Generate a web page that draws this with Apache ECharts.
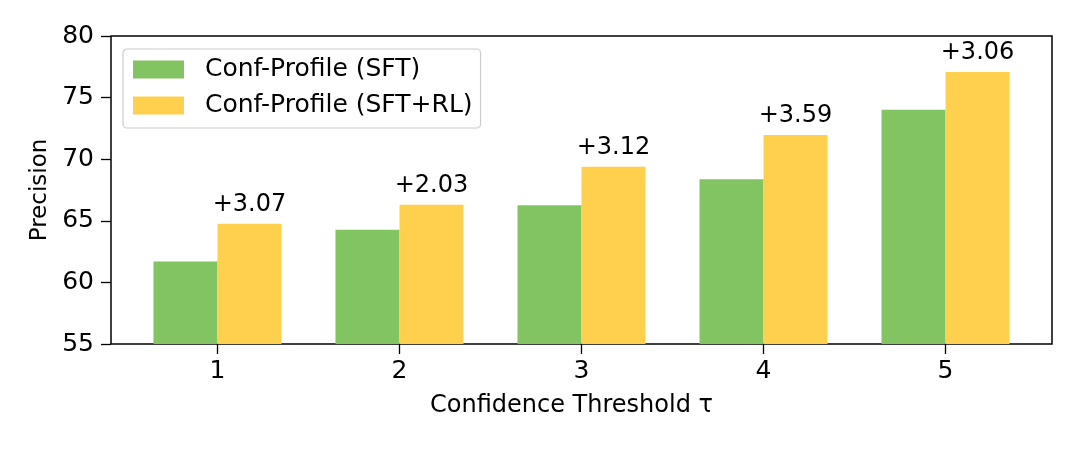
<!DOCTYPE html>
<html>
<head>
<meta charset="utf-8">
<script src="https://cdn.jsdelivr.net/npm/echarts@6/dist/echarts.min.js"></script>
<style>html,body{margin:0;padding:0;background:#fff;}#c{width:1080px;height:450px;}</style>
</head>
<body>
<div id="c"></div>
<script>
const categories = [1, 2, 3, 4, 5];
const sftValues = [61.70, 64.27, 66.26, 68.37, 74.01];
const rlValues = [64.77, 66.30, 69.38, 71.96, 77.07];
const gainLabels = ['+3.07', '+2.03', '+3.12', '+3.59', '+3.06'];
const yTicks = [55, 60, 65, 70, 75, 80];
const seriesNames = ['Conf-Profile (SFT)', 'Conf-Profile (SFT+RL)'];

const FONT = 'DejaVu Sans';
const chart = echarts.init(document.getElementById('c'), null, {renderer: 'canvas'});
chart.setOption({
  animation: false,
  backgroundColor: '#ffffff',
  textStyle: {fontFamily: FONT},
  grid: {left: 111, right: 28, top: 36, bottom: 106, show: true, borderColor: '#000', borderWidth: 1.5, backgroundColor: 'transparent'},
  legend: {
    orient: 'vertical', left: 123, top: 49,
    data: seriesNames,
    icon: 'rect', itemWidth: 51, itemHeight: 18, itemGap: 11,
    padding: [8, 8, 10, 10],
    borderColor: '#cccccc', borderWidth: 1.2, borderRadius: 4,
    backgroundColor: 'rgba(255,255,255,0.8)',
    textStyle: {fontFamily: FONT, fontSize: 25, color: '#000', padding: [0, 0, 0, 16]}
  },
  xAxis: {
    type: 'value', min: 0.415, max: 5.585,
    name: 'Confidence Threshold τ', nameLocation: 'middle', nameGap: 50,
    nameTextStyle: {fontFamily: FONT, fontSize: 24, color: '#000', padding: [0, 20, 0, 0]},
    axisLine: {show: false},
    splitLine: {show: false},
    axisTick: {show: true, length: 10, lineStyle: {color: '#000', width: 1.3}, customValues: categories},
    axisLabel: {fontFamily: FONT, fontSize: 25, color: '#000', margin: 15, customValues: categories, formatter: v => String(v)}
  },
  yAxis: {
    type: 'value', min: yTicks[0], max: yTicks[yTicks.length - 1], interval: 5,
    name: 'Precision', nameLocation: 'middle', nameGap: 58,
    nameTextStyle: {fontFamily: FONT, fontSize: 23, color: '#000'},
    axisLine: {show: false},
    splitLine: {show: false},
    axisTick: {show: true, length: 10, lineStyle: {color: '#000', width: 1.3}},
    axisLabel: {fontFamily: FONT, fontSize: 25, color: '#000', margin: 17}
  },
  series: [
    {
      name: seriesNames[0], type: 'bar', barWidth: 64, barGap: '0%',
      itemStyle: {color: '#82C461'},
      data: categories.map((c, i) => [c, sftValues[i]])
    },
    {
      name: seriesNames[1], type: 'bar', barWidth: 64, barGap: '0%',
      itemStyle: {color: '#FFD04E'},
      label: {
        show: true, position: 'top', distance: 7,
        fontFamily: FONT, fontSize: 24, color: '#000',
        formatter: p => gainLabels[p.dataIndex]
      },
      data: categories.map((c, i) => [c, rlValues[i]])
    }
  ]
});
</script>
</body>
</html>
